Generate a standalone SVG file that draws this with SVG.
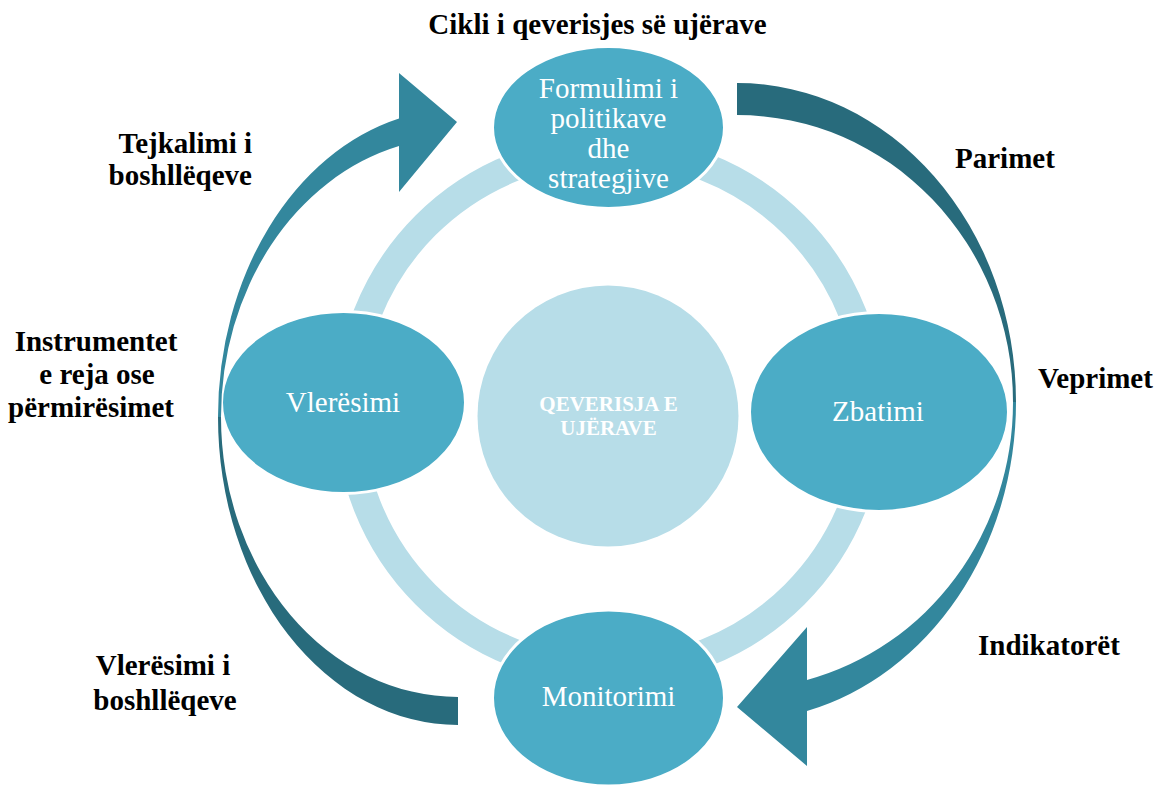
<svg xmlns="http://www.w3.org/2000/svg" width="1157" height="785" viewBox="0 0 1157 785">
<style>
.node{fill:#4bacc6;stroke:#ffffff;stroke-width:3}
.ntext{font-family:"Liberation Serif","Times New Roman",serif;font-size:29px;fill:#ffffff;text-anchor:middle}
.lbl{font-family:"Liberation Serif","Times New Roman",serif;font-size:29px;font-weight:bold;fill:#000000}
.ctext{font-family:"Liberation Serif","Times New Roman",serif;font-size:21px;font-weight:bold;fill:#ffffff;text-anchor:middle}
.dark{fill:#286b7c}
.light{fill:#33879d}
</style>
<rect width="1157" height="785" fill="#ffffff"/>
<g id="ring">
<circle cx="610" cy="410" r="261" fill="none" stroke="#b7dde8" stroke-width="28"/>
</g>
<g id="center">
<circle cx="608" cy="416" r="130.5" fill="#b7dde8"/>
<text class="ctext" x="608.5" y="411">QEVERISJA E</text>
<text class="ctext" x="608.5" y="435">UJËRAVE</text>
</g>
<g id="node-formulimi">
<ellipse class="node" cx="608.5" cy="127.5" rx="116" ry="81"/>
<text class="ntext" x="608.5" y="98">Formulimi i</text>
<text class="ntext" x="608.5" y="128">politikave</text>
<text class="ntext" x="608.5" y="158">dhe</text>
<text class="ntext" x="608.5" y="188">strategjive</text>
</g>
<g id="node-zbatimi">
<ellipse class="node" cx="879" cy="412" rx="129.5" ry="99.5"/>
<text class="ntext" x="878" y="421" font-size="28">Zbatimi</text>
</g>
<g id="node-monitorimi">
<ellipse class="node" cx="608.5" cy="698" rx="116" ry="88"/>
<text class="ntext" x="608.5" y="706">Monitorimi</text>
</g>
<g id="node-vleresimi">
<ellipse class="node" cx="343.5" cy="402.5" rx="122" ry="91"/>
<text class="ntext" x="343" y="412">Vlerësimi</text>
</g>
<g id="connectors">
<path class="dark" d="M737,83 A279,319 0 0 1 1016,402 L1013,402 A276,287 0 0 0 737,115 Z"/>
<path class="light" d="M1016,402 A279,319 0 0 1 807,711 L807,766 L737,707 L807,627 L807,680 A276,287 0 0 0 1013,402 Z"/>
<path class="dark" d="M458,725 A240,308 0 0 1 218,417 L221,417 A237,280 0 0 0 458,697 Z"/>
<path class="light" d="M218,417 A240,308 0 0 1 399,118.5 L399,73 L457,122 L399,192 L399,146 A237,280 0 0 0 221,417 Z"/>
</g>
<g id="labels">
<text class="lbl" x="597.5" y="34" text-anchor="middle">Cikli i qeverisjes së ujërave</text>
<text class="lbl" x="252" y="153" text-anchor="end">Tejkalimi i</text>
<text class="lbl" x="252" y="185" text-anchor="end">boshllëqeve</text>
<text class="lbl" x="96" y="351" text-anchor="middle">Instrumentet</text>
<text class="lbl" x="97" y="384" text-anchor="middle">e reja ose</text>
<text class="lbl" x="91" y="417" text-anchor="middle">përmirësimet</text>
<text class="lbl" x="163" y="675" text-anchor="middle">Vlerësimi i</text>
<text class="lbl" x="165" y="710" text-anchor="middle">boshllëqeve</text>
<text class="lbl" x="955" y="168">Parimet</text>
<text class="lbl" x="1038" y="388">Veprimet</text>
<text class="lbl" x="978" y="655">Indikatorët</text>
</g>
</svg>
